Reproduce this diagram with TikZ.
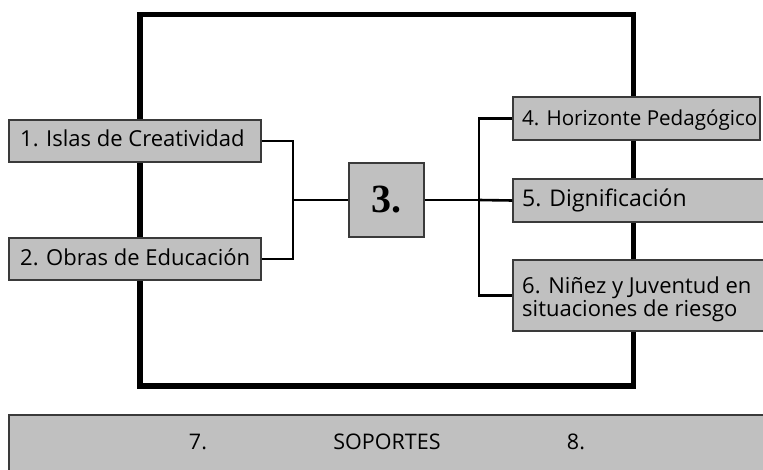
\documentclass[tikz,border=0pt]{standalone}
\usepackage{fontspec}
\setmainfont{Open Sans}
\newfontfamily\numfont{Liberation Serif}
\definecolor{boxgray}{HTML}{C0C0C0}
\definecolor{edgegray}{HTML}{3A3A3A}
\begin{document}
\begin{tikzpicture}[x=1pt,y=-1pt,
  gbox/.style={draw=edgegray, line width=1.2pt, fill=boxgray},
  lbl/.style={anchor=base west, inner sep=0pt, font=\fontsize{22}{24}\selectfont},
  btxt/.style={anchor=base, inner sep=0pt, font=\fontsize{21.5}{24}\selectfont},
  conn/.style={line width=2.6pt, black},
  frame/.style={line width=5.5pt, black}]
\clip (0,0) rectangle (763,469);
\fill[white] (0,0) rectangle (763,469);
% big frame
\draw[frame] (140,14.5) rectangle (633.5,386);
% boxes
\node[gbox, minimum width=252pt, minimum height=42pt, inner sep=0pt] (b1) at (135,141) {};
\node[gbox, minimum width=252pt, minimum height=42pt, inner sep=0pt] (b2) at (135,259) {};
\node[gbox, minimum width=75pt, minimum height=74pt, inner sep=0pt] (b3) at (386.5,200) {};
\node[gbox, minimum width=247pt, minimum height=43pt, inner sep=0pt] (b4) at (636.5,118.5) {};
\node[gbox, minimum width=270pt, minimum height=43pt, inner sep=0pt] (b5) at (648,200.5) {};
\node[gbox, minimum width=270pt, minimum height=71pt, inner sep=0pt] (b6) at (648,295.5) {};
\node[gbox, minimum width=770pt, minimum height=70pt, inner sep=0pt] (b7) at (394,450) {};
% connectors
\coordinate (lj) at (293,200);
\coordinate (rj) at (479,200);
\draw[conn] (b1.east) -| (lj) |- (b2.east);
\draw[conn] (lj) -- (b3.west);
\draw[conn] (b3.east) -- (rj);
\draw[conn] (b4.west) -| (rj) |- (b6.west);
\draw[conn] (rj) -- (b5.west);
% labels
\node[lbl] (t1) at (20,146) {1. Islas de Creatividad};
\node[lbl] (t2) at (20,265.5) {2. Obras de Educación};
\node[inner sep=0pt, font=\fontsize{40}{40}\selectfont\numfont\bfseries] (t3) at (b3.center) {3.};
\node[lbl, font=\fontsize{20.6}{24}\selectfont] (t4) at (522,125) {4. Horizonte Pedagógico};
\node[lbl, font=\fontsize{23}{24}\selectfont] (t5) at (522,206.5) {5. Dignificación};
\node[lbl] (t6a) at (522,293) {6. Niñez y Juventud en};
\node[lbl] (t6b) at (522,316.7) {situaciones de riesgo};
\node[btxt] (t7) at (198,449) {7.};
\node[btxt] (ts) at (387,449) {SOPORTES};
\node[btxt] (t8) at (576,449) {8.};
\end{tikzpicture}
\end{document}
